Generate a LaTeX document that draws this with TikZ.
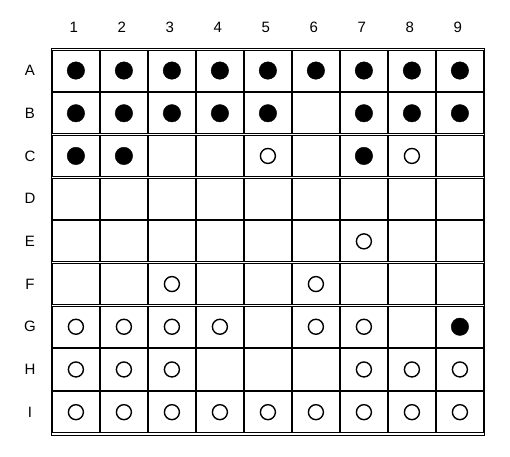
\documentclass[tikz,border=0pt]{standalone}
\usepackage{fontspec}
\setmainfont{Liberation Sans}
\definecolor{Ink}{HTML}{000000}
\tikzset{
  every node/.style={text=Ink},
  cell/.style={draw=Ink, line width=0.9pt, minimum width=46.4pt,
    minimum height=41.1pt, inner sep=0pt},
  frame/.style={draw=Ink, line width=0.9pt},
  full/.style={circle, fill=Ink, draw=Ink, minimum size=17.5pt, inner sep=0pt},
  hollow/.style={circle, draw=Ink, line width=1.4pt, minimum size=15pt, inner sep=0pt},
  tag/.style={font=\fontsize{15}{17}\selectfont},
}
\begin{document}
\begin{tikzpicture}[x=1pt,y=-1pt]
  \useasboundingbox (0,0) rectangle (510,456);

  % Outer frame of the board.
  \draw[frame] (51,48.3) rectangle (484.3,435);

  % Cells, each drawn on its own so that neighbours show a double line.
  \foreach \r [count=\i] in {A,B,C,D,E,F,G,H,I} {
    \foreach \j in {1,...,9} {
      \node[cell] (cell-\i-\j) at ({75.9+48*(\j-1)},{70.55+42.7*(\i-1)}) {};
    }
    \node[tag] (row-\i) at (30,{70.55+42.7*(\i-1)}) {\r};
  }
  \foreach \j in {1,...,9}
    \node[tag] (col-\j) at ({73.9+48*(\j-1)},27) {\j};

  % Filled markers.
  \foreach \i/\j in {1/1,1/2,1/3,1/4,1/5,1/6,1/7,1/8,1/9,
                     2/1,2/2,2/3,2/4,2/5,2/7,2/8,2/9,
                     3/1,3/2,3/7,7/9}
    \node[full] (mark-\i-\j) at (cell-\i-\j) {};

  % Open markers.
  \foreach \i/\j in {3/5,3/8,5/7,6/3,6/6,
                     7/1,7/2,7/3,7/4,7/6,7/7,
                     8/1,8/2,8/3,8/7,8/8,8/9,
                     9/1,9/2,9/3,9/4,9/5,9/6,9/7,9/8,9/9}
    \node[hollow] (mark-\i-\j) at (cell-\i-\j) {};
\end{tikzpicture}
\end{document}
